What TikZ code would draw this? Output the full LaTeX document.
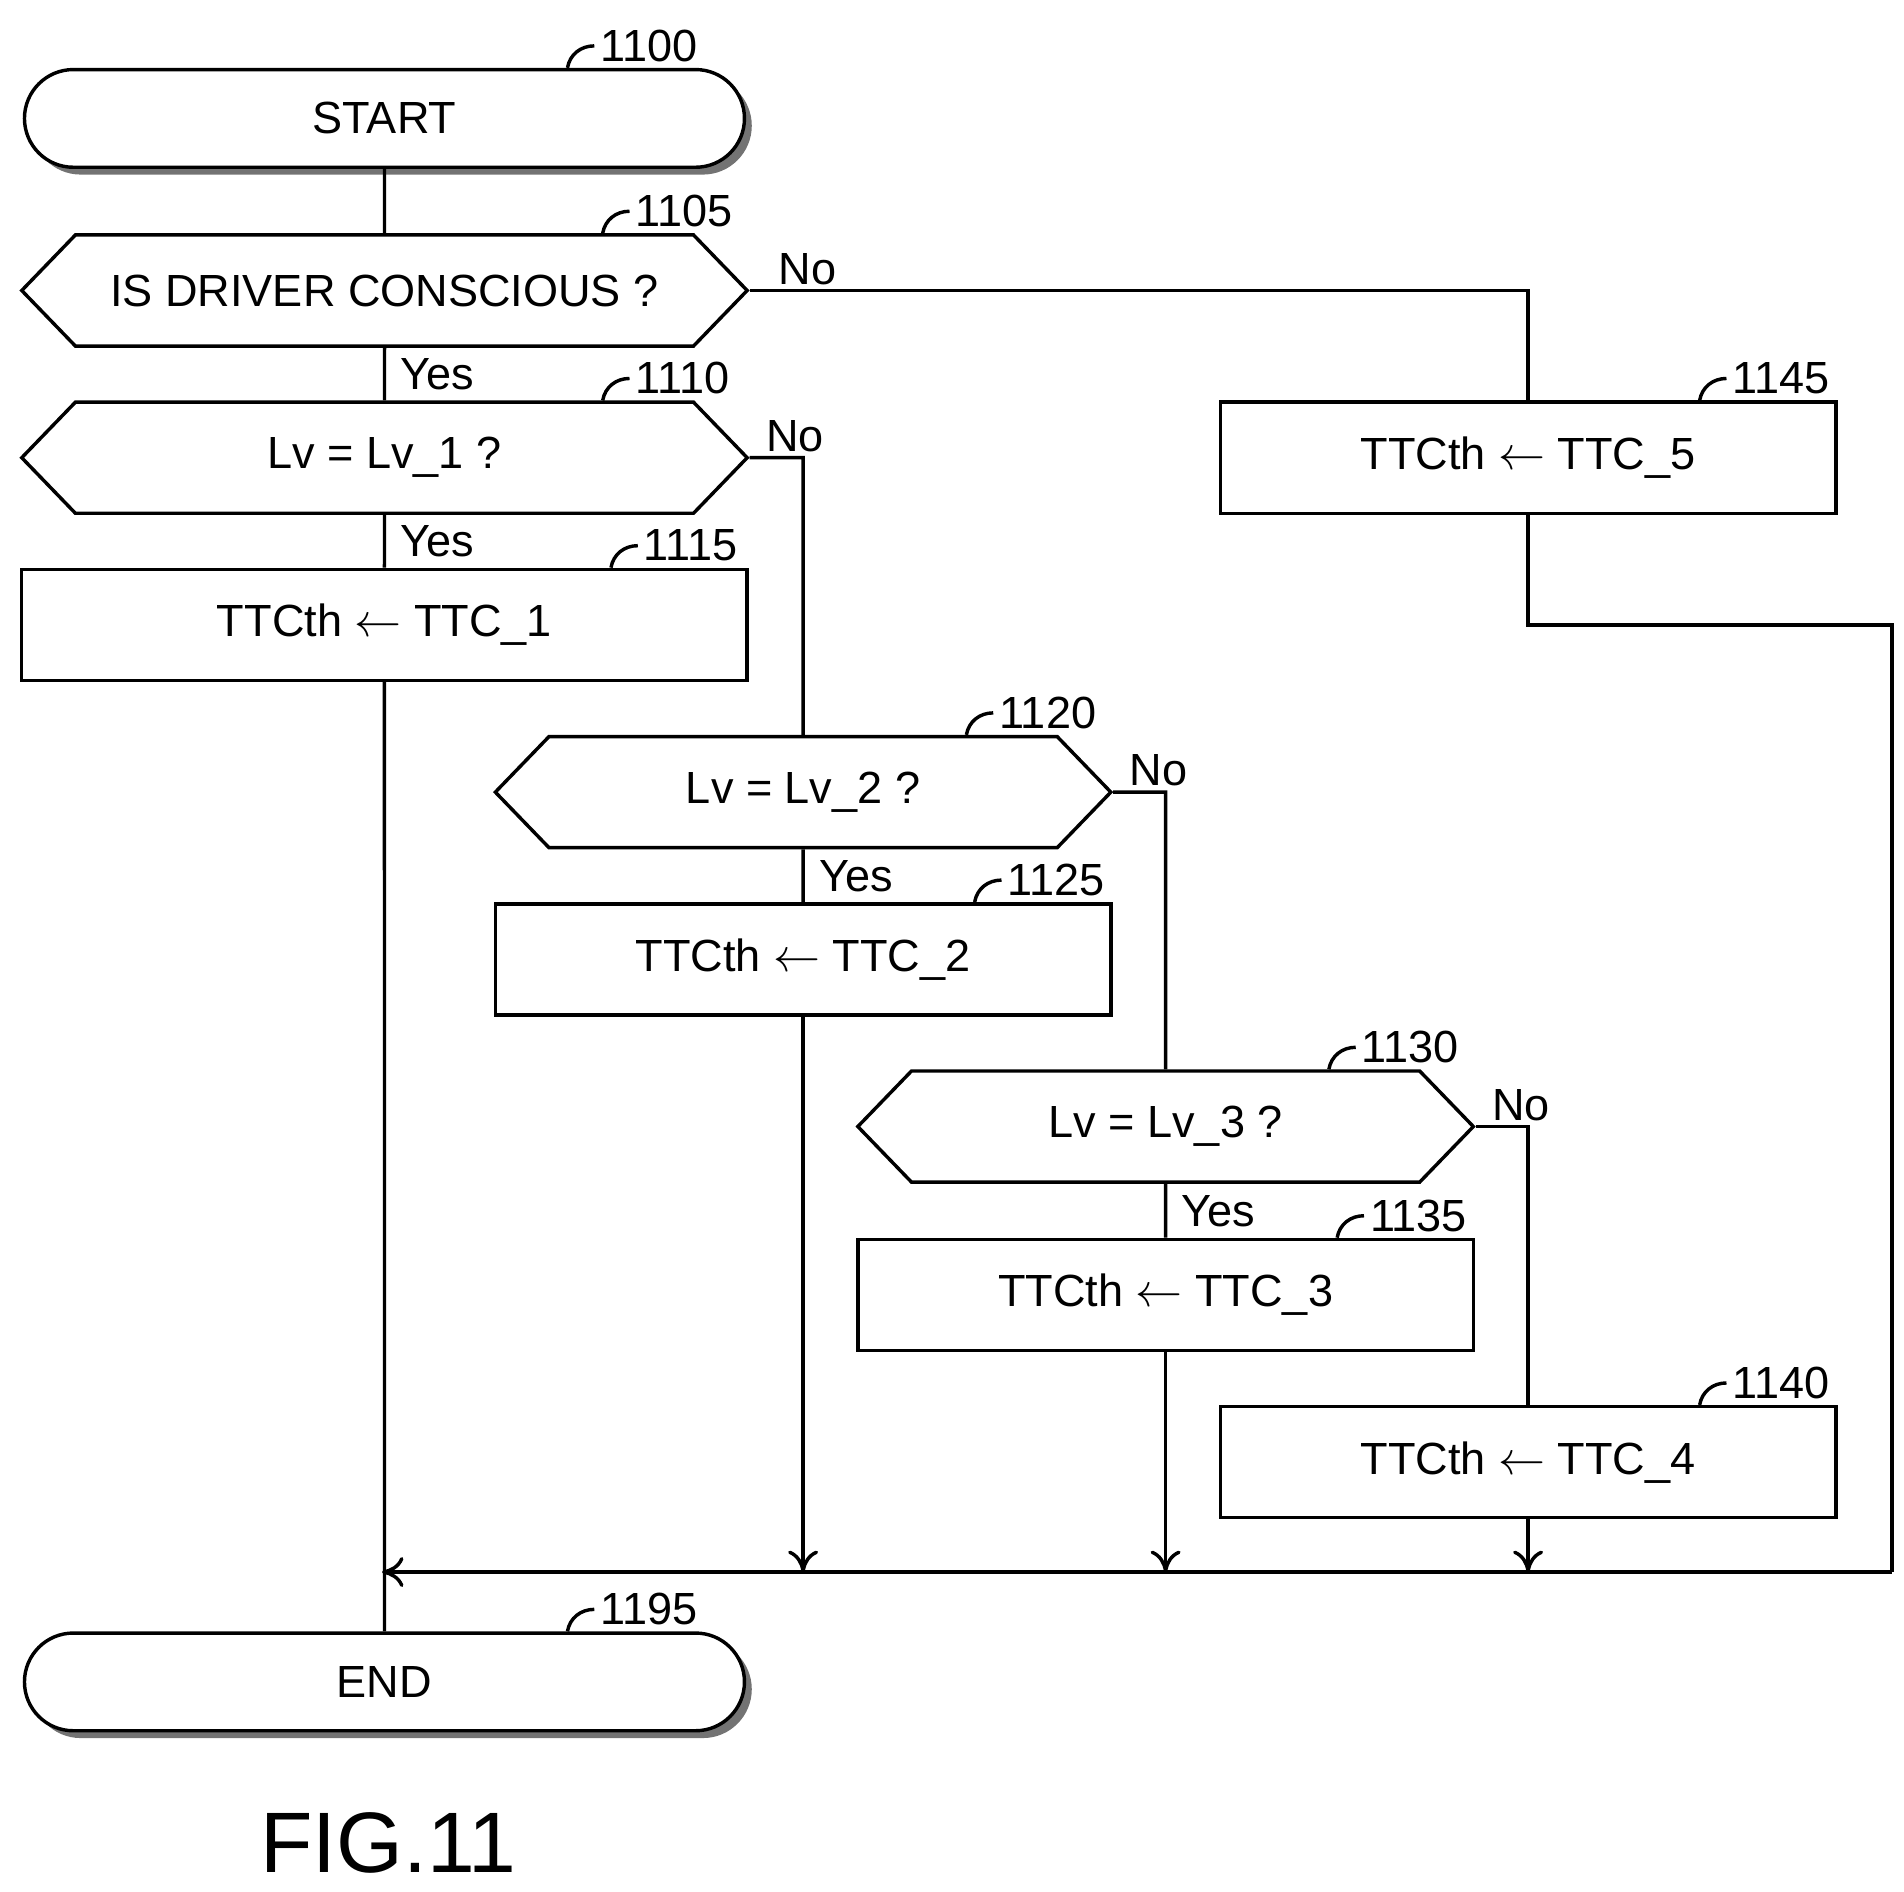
\documentclass[tikz,border=0pt]{standalone}
\usepackage{fontspec}
\setmainfont{Liberation Sans}
\usetikzlibrary{shapes.symbols,shapes.misc,arrows.meta,calc}
\tikzset{
  every node/.style={font=\fontsize{10.5}{13}\selectfont},
  term/.style={rounded rectangle, draw, line width=0.8pt, fill=white, minimum width=6.13cm, minimum height=0.8cm},
  shadow/.style={rounded rectangle, fill=black!55, minimum width=6.13cm, minimum height=0.8cm},
  dec/.style={signal, signal to=west and east, signal pointer angle=92, draw, line width=0.8pt, minimum width=5.0cm, minimum height=0.91cm, inner sep=0pt},
  proc/.style={rectangle, draw, line width=0.8pt, minimum width=5.04cm, minimum height=0.91cm},
  line/.style={line width=0.8pt},
  arr/.style={line width=0.8pt, -{To[length=5pt,width=7pt]}},
  lbl/.style={font=\fontsize{10.5}{13}\selectfont}
}
\newcommand{\stepnum}[3][-113]{\draw[line] ($(#2.north east)+(#1,0)$) to[out=80,in=180] ++(22,-18) node[right, inner sep=1pt, lbl] {#3};}
\begin{document}
\begin{tikzpicture}[x=0.01cm, y=-0.01cm]
\useasboundingbox (0,0) rectangle (1560,1550);
% terminals
\node[shadow] at (321,103) {};
\node (start) [term] at (315,97) {START};
\node[shadow] at (321,1384) {};
\node (end) [term] at (315,1378) {END};
% decisions
\node (d1) [dec, minimum width=5.94cm] at (315,238) {IS DRIVER CONSCIOUS ?};
\node (d2) [dec, minimum width=5.94cm] at (315,375) {Lv = Lv\_1 ?};
\node (d3) [dec, minimum width=5.04cm] at (658,649) {Lv = Lv\_2 ?};
\node (d4) [dec, minimum width=5.04cm] at (955,923) {Lv = Lv\_3 ?};
% processes
\node (p1) [proc, minimum width=5.94cm] at (315,512) {TTCth $\leftarrow$ TTC\_1};
\node (p2) [proc] at (658,786) {TTCth $\leftarrow$ TTC\_2};
\node (p3) [proc] at (955,1061) {TTCth $\leftarrow$ TTC\_3};
\node (p4) [proc] at (1252,1198) {TTCth $\leftarrow$ TTC\_4};
\node (p5) [proc] at (1252,375) {TTCth $\leftarrow$ TTC\_5};
% step numbers
\stepnum[-105]{start}{1100}
\stepnum[-75]{d1}{1105}
\stepnum[-75]{d2}{1110}
\stepnum{p1}{1115}
\stepnum[-75]{d3}{1120}
\stepnum{p2}{1125}
\stepnum[-75]{d4}{1130}
\stepnum{p3}{1135}
\stepnum{p4}{1140}
\stepnum{p5}{1145}
\stepnum[-105]{end}{1195}
% merge points
\coordinate (m1) at (315,1288);
\coordinate (m2) at (658,1288);
\coordinate (m3) at (955,1288);
\coordinate (m4) at (1252,1288);
\coordinate (m5) at (1550,1288);
% connectors
\draw[line] (start) -- (d1);
\draw[line] (d1) -- node[pos=0.5, right, lbl] {Yes} (d2);
\draw[line] (d2) -- node[pos=0.5, right, lbl] {Yes} (p1);
\draw[line] (d3) -- node[pos=0.5, right, lbl] {Yes} (p2);
\draw[line] (d4) -- node[pos=0.5, right, lbl] {Yes} (p3);
\draw[line] (d1.east) -- node[pos=0.03, above right, lbl, inner sep=1pt] {No} (d1.east -| p5) -- (p5);
\draw[line] (d2.east) -- node[pos=0.2, above right, lbl, inner sep=1pt] {No} (d2.east -| d3) -- (d3);
\draw[line] (d3.east) -- node[pos=0.2, above right, lbl, inner sep=1pt] {No} (d3.east -| d4) -- (d4);
\draw[line] (d4.east) -- node[pos=0.2, above right, lbl, inner sep=1pt] {No} (d4.east -| p4) -- (p4);
\draw[arr] (p2) -- (m2);
\draw[arr] (p3) -- (m3);
\draw[arr] (p4) -- (m4);
\draw[line] (p5) -- (1252,512) -- (1550,512) -- (m5);
\draw[arr] (m5) -- ($(m1)+(-2,0)$);
\draw[line] (p1) -- (end);
% caption
\node (fig) at (318,1510) {\fontsize{20}{22}\selectfont FIG.11};
\end{tikzpicture}
\end{document}
